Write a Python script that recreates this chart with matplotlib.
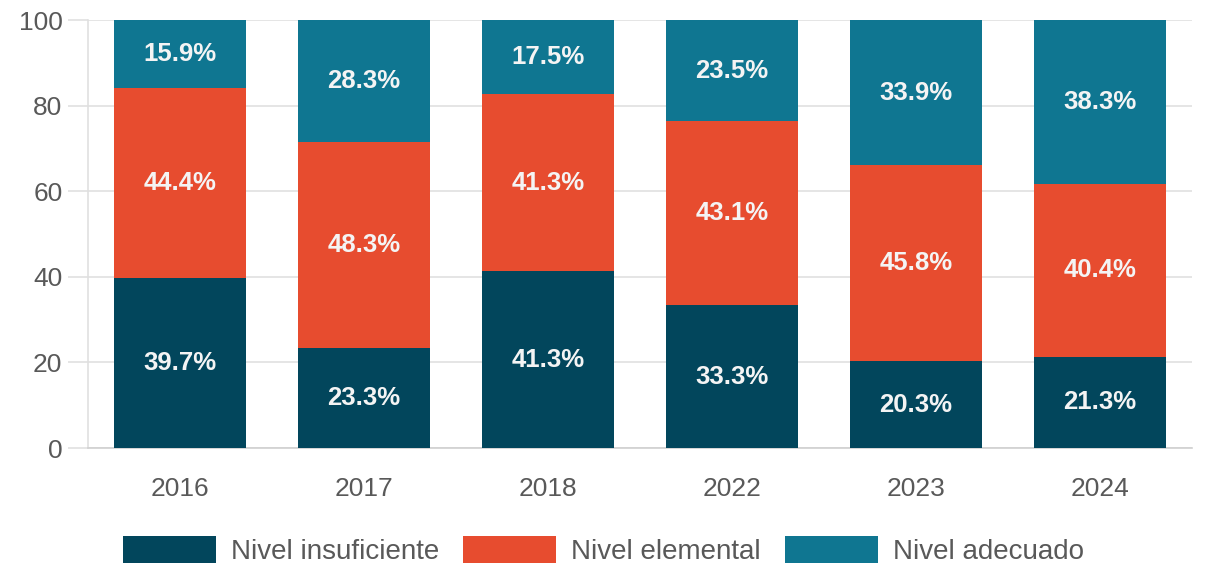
import numpy as np
import matplotlib.pyplot as plt

plt.rcParams['font.family'] = ['Liberation Sans', 'DejaVu Sans']

# Data
years = ['2016', '2017', '2018', '2022', '2023', '2024']
insuficiente = [39.7, 23.3, 41.3, 33.3, 20.3, 21.3]
elemental = [44.4, 48.3, 41.3, 43.1, 45.8, 40.4]
adecuado = [15.9, 28.3, 17.5, 23.5, 33.9, 38.3]
series_names = ['Nivel insuficiente', 'Nivel elemental', 'Nivel adecuado']
colors = ['#02465c', '#e74c2f', '#0f7691']

fig = plt.figure(figsize=(12.07, 5.65), dpi=100)
ax = fig.add_axes([88 / 1207, 117 / 565, 1104 / 1207, 428 / 565])

x = np.arange(len(years))
bottom = np.zeros(len(years))
for vals, name, col in zip([insuficiente, elemental, adecuado], series_names, colors):
    vals = np.array(vals)
    ax.bar(x, vals, width=0.72, bottom=bottom, color=col, label=name, zorder=3)
    for xi, b, v in zip(x, bottom, vals):
        top = min(b + v, 100)
        ax.text(xi, (b + top) / 2, f'{v:.1f}%', ha='center', va='center',
                color='#f4f4f4', fontsize=18.5, fontweight='bold', zorder=4)
    bottom += vals

ax.set_xlim(-0.5, len(years) - 0.5)
ax.set_ylim(0, 100)
ax.set_yticks(np.arange(0, 101, 20))
ax.set_xticks(x)
ax.set_xticklabels(years)

ax.grid(axis='y', color='#e0e0e0', linewidth=1.2, zorder=0)
ax.tick_params(axis='y', length=14.4, width=1.2, color='#e0e0e0', pad=4,
               labelsize=19, labelcolor='#595959')
ax.tick_params(axis='x', length=0, pad=21, labelsize=19, labelcolor='#595959')
for s in ['top', 'right']:
    ax.spines[s].set_visible(False)
ax.spines['left'].set_color('#e0e0e0')
ax.spines['left'].set_linewidth(1.2)
ax.spines['bottom'].set_color('#d0d0d0')
ax.spines['bottom'].set_linewidth(1.2)

fig.legend(loc='center', bbox_to_anchor=(0.5, 0.025), ncol=3, frameon=False,
           fontsize=20, handlelength=3.35, handleheight=1.1, handletextpad=0.55,
           columnspacing=0.86, labelcolor='#595959')

fig.savefig('out.png', dpi=100)
